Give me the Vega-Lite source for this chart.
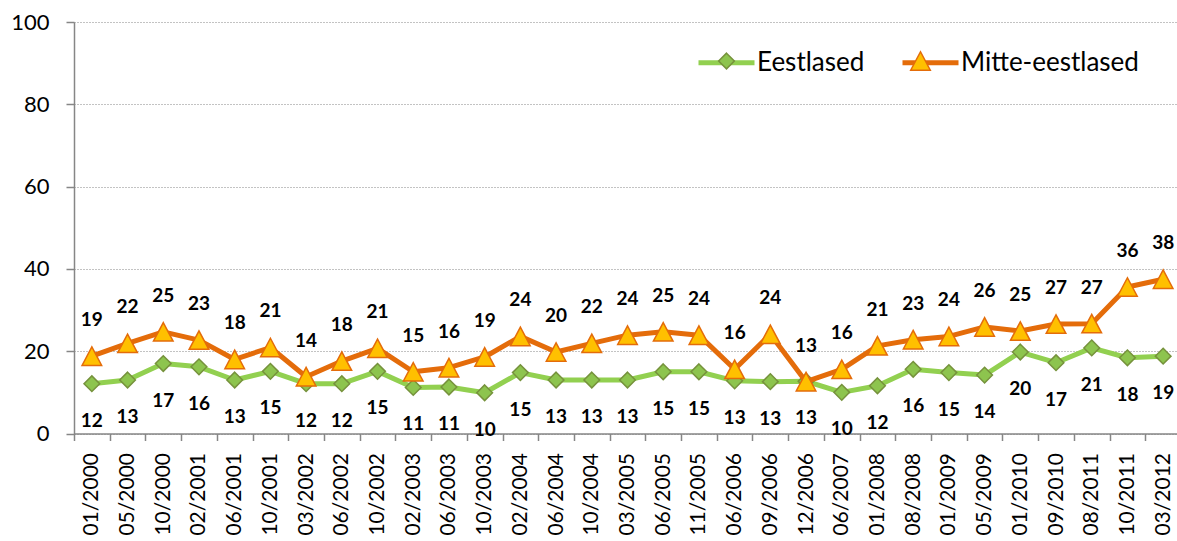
{
  "$schema": "https://vega.github.io/schema/vega-lite/v6.json",
  "width": 1107,
  "height": 411.5,
  "autosize": {"type": "none"},
  "padding": {"left": 74, "top": 22, "right": 0, "bottom": 108},
  "background": "white",
  "config": {"view": {"stroke": null}, "font": "Lato"},
  "data": {"values": [
    {"date": "01/2000", "series": "Eestlased", "value": 12.1}, {"date": "01/2000", "series": "Mitte-eestlased", "value": 18.8},
    {"date": "05/2000", "series": "Eestlased", "value": 13.0}, {"date": "05/2000", "series": "Mitte-eestlased", "value": 21.9},
    {"date": "10/2000", "series": "Eestlased", "value": 17.0}, {"date": "10/2000", "series": "Mitte-eestlased", "value": 24.7},
    {"date": "02/2001", "series": "Eestlased", "value": 16.2}, {"date": "02/2001", "series": "Mitte-eestlased", "value": 22.7},
    {"date": "06/2001", "series": "Eestlased", "value": 13.0}, {"date": "06/2001", "series": "Mitte-eestlased", "value": 18.0},
    {"date": "10/2001", "series": "Eestlased", "value": 15.1}, {"date": "10/2001", "series": "Mitte-eestlased", "value": 20.9},
    {"date": "03/2002", "series": "Eestlased", "value": 12.1}, {"date": "03/2002", "series": "Mitte-eestlased", "value": 13.8},
    {"date": "06/2002", "series": "Eestlased", "value": 12.1}, {"date": "06/2002", "series": "Mitte-eestlased", "value": 17.6},
    {"date": "10/2002", "series": "Eestlased", "value": 15.1}, {"date": "10/2002", "series": "Mitte-eestlased", "value": 20.7},
    {"date": "02/2003", "series": "Eestlased", "value": 11.2}, {"date": "02/2003", "series": "Mitte-eestlased", "value": 15.0},
    {"date": "06/2003", "series": "Eestlased", "value": 11.3}, {"date": "06/2003", "series": "Mitte-eestlased", "value": 16.0},
    {"date": "10/2003", "series": "Eestlased", "value": 9.9}, {"date": "10/2003", "series": "Mitte-eestlased", "value": 18.6},
    {"date": "02/2004", "series": "Eestlased", "value": 14.8}, {"date": "02/2004", "series": "Mitte-eestlased", "value": 23.6},
    {"date": "06/2004", "series": "Eestlased", "value": 13.0}, {"date": "06/2004", "series": "Mitte-eestlased", "value": 19.8},
    {"date": "10/2004", "series": "Eestlased", "value": 13.0}, {"date": "10/2004", "series": "Mitte-eestlased", "value": 21.9},
    {"date": "03/2005", "series": "Eestlased", "value": 13.0}, {"date": "03/2005", "series": "Mitte-eestlased", "value": 23.9},
    {"date": "06/2005", "series": "Eestlased", "value": 15.0}, {"date": "06/2005", "series": "Mitte-eestlased", "value": 24.7},
    {"date": "11/2005", "series": "Eestlased", "value": 15.0}, {"date": "11/2005", "series": "Mitte-eestlased", "value": 23.9},
    {"date": "06/2006", "series": "Eestlased", "value": 12.8}, {"date": "06/2006", "series": "Mitte-eestlased", "value": 15.6},
    {"date": "09/2006", "series": "Eestlased", "value": 12.6}, {"date": "09/2006", "series": "Mitte-eestlased", "value": 24.1},
    {"date": "12/2006", "series": "Eestlased", "value": 12.7}, {"date": "12/2006", "series": "Mitte-eestlased", "value": 12.6},
    {"date": "06/2007", "series": "Eestlased", "value": 10.0}, {"date": "06/2007", "series": "Mitte-eestlased", "value": 15.6},
    {"date": "01/2008", "series": "Eestlased", "value": 11.6}, {"date": "01/2008", "series": "Mitte-eestlased", "value": 21.3},
    {"date": "08/2008", "series": "Eestlased", "value": 15.6}, {"date": "08/2008", "series": "Mitte-eestlased", "value": 22.8},
    {"date": "01/2009", "series": "Eestlased", "value": 14.8}, {"date": "01/2009", "series": "Mitte-eestlased", "value": 23.6},
    {"date": "05/2009", "series": "Eestlased", "value": 14.2}, {"date": "05/2009", "series": "Mitte-eestlased", "value": 25.9},
    {"date": "01/2010", "series": "Eestlased", "value": 19.8}, {"date": "01/2010", "series": "Mitte-eestlased", "value": 24.9},
    {"date": "09/2010", "series": "Eestlased", "value": 17.2}, {"date": "09/2010", "series": "Mitte-eestlased", "value": 26.6},
    {"date": "08/2011", "series": "Eestlased", "value": 20.8}, {"date": "08/2011", "series": "Mitte-eestlased", "value": 26.7},
    {"date": "10/2011", "series": "Eestlased", "value": 18.4}, {"date": "10/2011", "series": "Mitte-eestlased", "value": 35.6},
    {"date": "03/2012", "series": "Eestlased", "value": 18.8}, {"date": "03/2012", "series": "Mitte-eestlased", "value": 37.5}
  ]},
  "encoding": {
    "x": {
      "field": "date", "type": "nominal", "title": null,
      "scale": {"type": "band", "paddingInner": 0, "paddingOuter": 0,
        "domain": ["01/2000","05/2000","10/2000","02/2001","06/2001","10/2001","03/2002","06/2002","10/2002","02/2003","06/2003","10/2003","02/2004","06/2004","10/2004","03/2005","06/2005","11/2005","06/2006","09/2006","12/2006","06/2007","01/2008","08/2008","01/2009","05/2009","01/2010","09/2010","08/2011","10/2011","03/2012"]},
      "axis": {"labelAngle": -90, "labelFontSize": 21, "labelFont": "Lato", "labelColor": "#000000", "labelPadding": 12, "tickSize": 7, "tickBand": "extent", "tickColor": "#868686", "tickWidth": 1.5, "domainColor": "#868686", "domainWidth": 1.5, "grid": false}
    },
    "y": {
      "field": "value", "type": "quantitative", "title": null,
      "scale": {"domain": [0, 100]},
      "axis": {"values": [0, 20, 40, 60, 80, 100], "grid": true, "gridDash": [1, 2], "gridColor": "#868686", "gridWidth": 1, "domainColor": "#868686", "domainWidth": 1.5, "tickColor": "#868686", "tickWidth": 1.5, "tickSize": 8, "labelFontSize": 22, "labelFont": "Lato", "labelColor": "#000000", "labelPadding": 17}
    }
  },
  "layer": [
    {
      "transform": [{"filter": "datum.series === 'Eestlased'"}],
      "mark": {"type": "line", "strokeWidth": 5, "strokeJoin": "round"},
      "encoding": {"color": {"field": "series", "type": "nominal",
        "scale": {"domain": ["Eestlased", "Mitte-eestlased"], "range": ["#92D050", "#E46C0A"]},
        "legend": {"orient": "none", "legendX": 622, "legendY": 10, "direction": "horizontal", "title": null, "symbolType": "stroke", "symbolSize": 3136, "symbolStrokeWidth": 5, "labelFontSize": 26, "labelFont": "Lato", "labelColor": "#000000", "labelOffset": 0, "columnPadding": 27, "padding": 0, "labelLimit": 400}}}
    },
    {
      "transform": [{"filter": "datum.series === 'Eestlased'"}],
      "mark": {"type": "point", "filled": true, "size": 3136, "strokeWidth": 1.5, "opacity": 1},
      "encoding": {
        "shape": {"field": "series", "type": "nominal",
          "scale": {"range": ["M0,-0.28L0.28,0L0,0.28L-0.28,0Z", "M0,-0.33L0.35,0.33L-0.35,0.33Z"]},
          "legend": {"orient": "none", "legendX": 623.5, "legendY": 10, "direction": "horizontal", "title": null, "symbolSize": 3136, "symbolStrokeWidth": 1.5, "labelExpr": "''", "labelFontSize": 26, "labelFont": "Lato", "labelOffset": 0, "columnPadding": 136, "padding": 0, "labelLimit": 400}},
        "fill": {"field": "series", "type": "nominal", "scale": {"range": ["#8DC44E", "#FFC000"]}},
        "stroke": {"field": "series", "type": "nominal", "scale": {"range": ["#76923C", "#E46C0A"]}}
      }
    },
    {
      "transform": [{"filter": "datum.series === 'Mitte-eestlased'"}],
      "mark": {"type": "line", "strokeWidth": 5, "strokeJoin": "round"},
      "encoding": {"color": {"field": "series", "type": "nominal"}}
    },
    {
      "transform": [{"filter": "datum.series === 'Mitte-eestlased'"}],
      "mark": {"type": "point", "filled": true, "size": 3136, "strokeWidth": 1.5, "opacity": 1},
      "encoding": {
        "shape": {"field": "series", "type": "nominal"},
        "fill": {"field": "series", "type": "nominal"},
        "stroke": {"field": "series", "type": "nominal"}
      }
    },
    {
      "transform": [{"filter": "datum.series === 'Eestlased'"}],
      "mark": {"type": "text", "dy": 37, "fontSize": 19, "fontWeight": "bold", "font": "Lato", "color": "#000000"},
      "encoding": {"text": {"field": "value", "type": "quantitative", "format": ".0f"}}
    },
    {
      "transform": [{"filter": "datum.series === 'Mitte-eestlased'"}],
      "mark": {"type": "text", "dy": -36, "fontSize": 19, "fontWeight": "bold", "font": "Lato", "color": "#000000"},
      "encoding": {"text": {"field": "value", "type": "quantitative", "format": ".0f"}}
    }
  ]
}
